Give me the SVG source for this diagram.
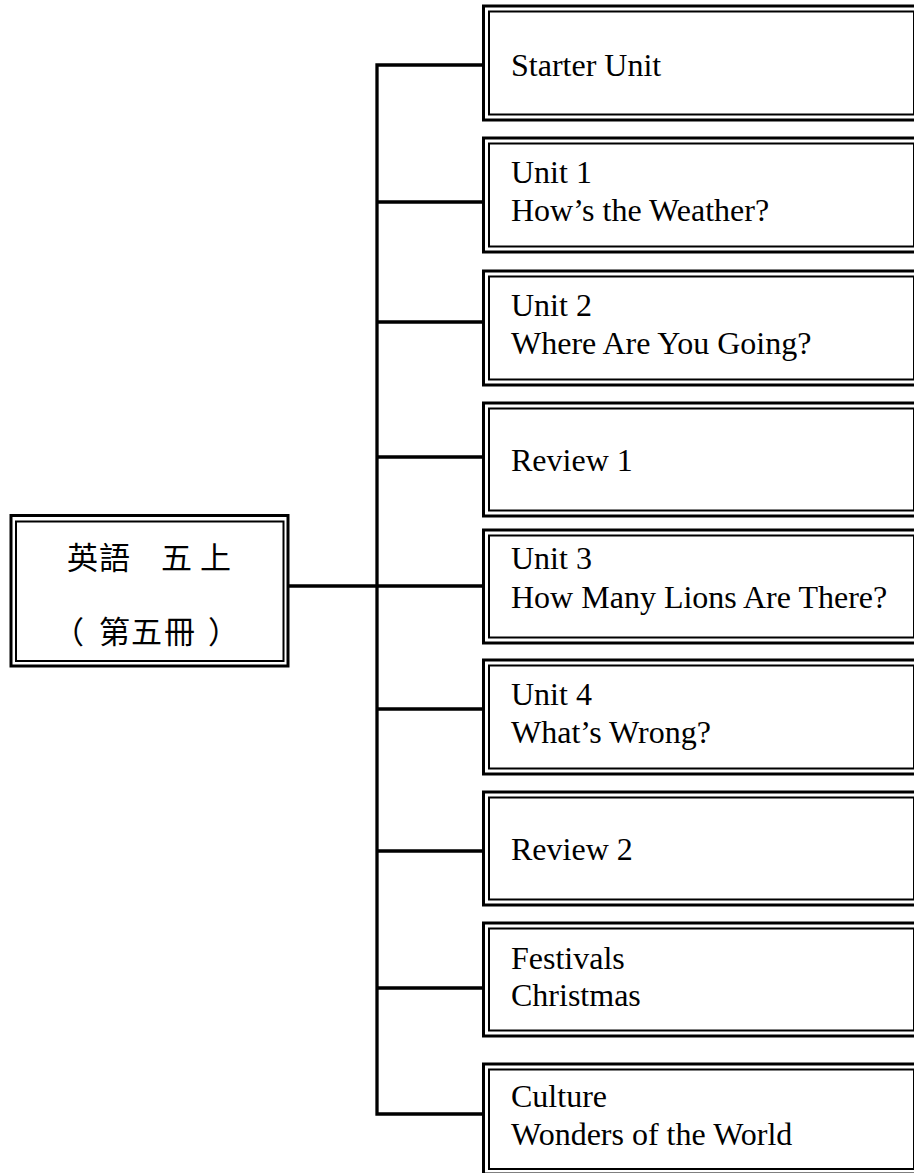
<svg xmlns="http://www.w3.org/2000/svg" width="914" height="1173" viewBox="0 0 914 1173">
<style>
.outer{fill:#fff;stroke:#000;stroke-width:3}
.inner{fill:none;stroke:#000;stroke-width:2}
.conn{fill:none;stroke:#000;stroke-width:3.3;stroke-linejoin:miter;stroke-linecap:butt}
.t{font-family:"Liberation Serif","Times New Roman",serif;font-size:32px;fill:#000}
.cjk{font-family:"Noto Sans CJK TC","Noto Sans CJK SC",sans-serif;font-size:31px;fill:#000}
</style>
<rect width="914" height="1173" fill="#fff"/>
<g id="connectors">
<path class="conn" d="M485,65 H377 V1114 H485"/>
<path class="conn" d="M377,202 H485 M377,322 H485 M377,457 H485 M377,586 H485 M377,709 H485 M377,851 H485 M377,988 H485"/>
<path class="conn" d="M288,586 H377"/>
</g>
<g id="root">
<rect class="outer" x="11" y="515.5" width="277" height="150.5"/>
<rect class="inner" x="16" y="521.5" width="267.5" height="139.5"/>
<text class="cjk" x="67 99 131 161 200" y="569">英語 五上</text>
<text class="cjk" x="53 99 131 164 208" y="643">（第五冊）</text>
</g>
<g id="n1">
<rect class="outer" x="483.5" y="6" width="436" height="114"/>
<rect class="inner" x="489" y="11.5" width="425" height="103"/>
<text class="t" x="511" y="76">Starter Unit</text>
</g>
<g id="n2">
<rect class="outer" x="483.5" y="138" width="436" height="114"/>
<rect class="inner" x="489" y="143.5" width="425" height="103"/>
<text class="t" x="511" y="183">Unit 1</text>
<text class="t" x="511" y="221">How’s the Weather?</text>
</g>
<g id="n3">
<rect class="outer" x="483.5" y="271" width="436" height="114"/>
<rect class="inner" x="489" y="276.5" width="425" height="103"/>
<text class="t" x="511" y="316">Unit 2</text>
<text class="t" x="511" y="354">Where Are You Going?</text>
</g>
<g id="n4">
<rect class="outer" x="483.5" y="403" width="436" height="113"/>
<rect class="inner" x="489" y="408.5" width="425" height="102"/>
<text class="t" x="511" y="471">Review 1</text>
</g>
<g id="n5">
<rect class="outer" x="483.5" y="530" width="436" height="113"/>
<rect class="inner" x="489" y="535.5" width="425" height="102"/>
<text class="t" x="511" y="569">Unit 3</text>
<text class="t" x="511" y="608">How Many Lions Are There?</text>
</g>
<g id="n6">
<rect class="outer" x="483.5" y="660" width="436" height="114"/>
<rect class="inner" x="489" y="665.5" width="425" height="103"/>
<text class="t" x="511" y="705">Unit 4</text>
<text class="t" x="511" y="743">What’s Wrong?</text>
</g>
<g id="n7">
<rect class="outer" x="483.5" y="792" width="436" height="113"/>
<rect class="inner" x="489" y="797.5" width="425" height="102"/>
<text class="t" x="511" y="860">Review 2</text>
</g>
<g id="n8">
<rect class="outer" x="483.5" y="923" width="436" height="113"/>
<rect class="inner" x="489" y="928.5" width="425" height="102"/>
<text class="t" x="511" y="969">Festivals</text>
<text class="t" x="511" y="1006">Christmas</text>
</g>
<g id="n9">
<rect class="outer" x="483.5" y="1064" width="436" height="110"/>
<rect class="inner" x="489" y="1069.5" width="425" height="99.5"/>
<text class="t" x="511" y="1107">Culture</text>
<text class="t" x="511" y="1145">Wonders of the World</text>
</g>
</svg>
